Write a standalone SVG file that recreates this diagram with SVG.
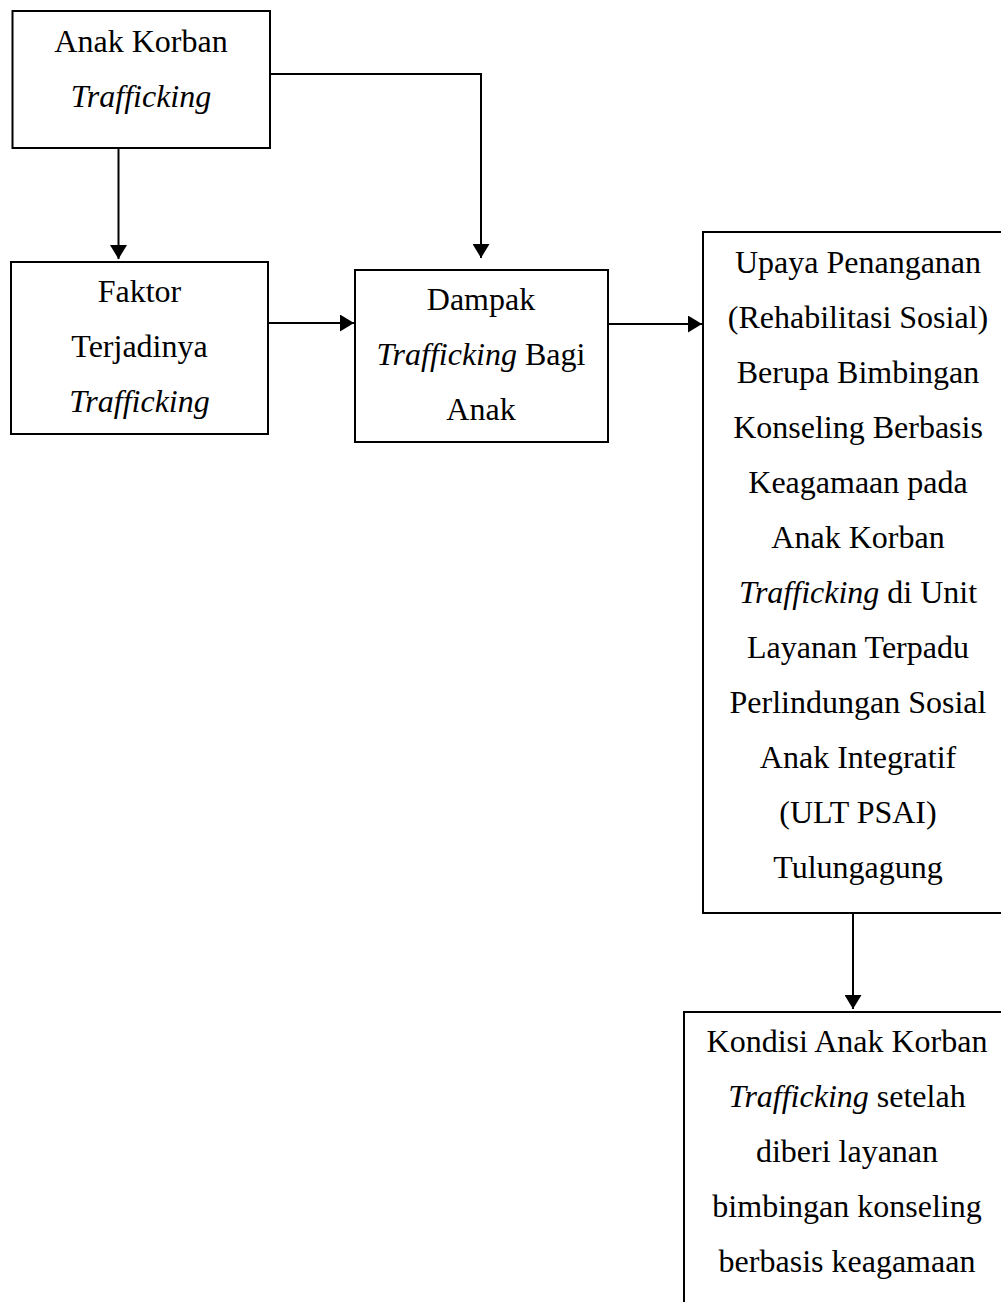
<svg xmlns="http://www.w3.org/2000/svg" width="1001" height="1302" viewBox="0 0 1001 1302">
<style>
.box{fill:#fff;stroke:#000;stroke-width:2}
.t{font-family:"Liberation Serif","Times New Roman",serif;font-size:32px;fill:#000;text-anchor:middle}
.i{font-style:italic}
.c{fill:none;stroke:#000;stroke-width:2}
</style>
<defs>
<marker id="ah" viewBox="0 0 14 17" refX="14" refY="8.5" markerWidth="14" markerHeight="17" markerUnits="userSpaceOnUse" orient="auto">
<path d="M0,0 L14,8.5 L0,17 z" fill="#000"/>
</marker>
</defs>
<rect width="1001" height="1302" fill="#fff"/>
<g id="connectors">
<path class="c" d="M118.5 148 V259" marker-end="url(#ah)"/>
<path class="c" d="M270 74 H481 V258" marker-end="url(#ah)"/>
<path class="c" d="M268 323 H354" marker-end="url(#ah)"/>
<path class="c" d="M608 324 H702" marker-end="url(#ah)"/>
<path class="c" d="M853 913 V1009" marker-end="url(#ah)"/>
</g>
<g id="n1">
<rect class="box" x="12.5" y="11" width="257.5" height="137"/>
<text class="t" x="141" y="52">Anak Korban</text>
<text class="t i" x="141" y="107">Trafficking</text>
</g>
<g id="n2">
<rect class="box" x="11" y="262" width="257" height="172"/>
<text class="t" x="139.5" y="302">Faktor</text>
<text class="t" x="139.5" y="357">Terjadinya</text>
<text class="t i" x="139.5" y="412">Trafficking</text>
</g>
<g id="n3">
<rect class="box" x="355" y="270" width="253" height="172"/>
<text class="t" x="481" y="310">Dampak</text>
<text class="t" x="481" y="365"><tspan class="i">Trafficking</tspan> Bagi</text>
<text class="t" x="481" y="420">Anak</text>
</g>
<g id="n4">
<rect class="box" x="703" y="232" width="310" height="681"/>
<text class="t" x="858" y="273">Upaya Penanganan</text>
<text class="t" x="858" y="328">(Rehabilitasi Sosial)</text>
<text class="t" x="858" y="383">Berupa Bimbingan</text>
<text class="t" x="858" y="438">Konseling Berbasis</text>
<text class="t" x="858" y="493">Keagamaan pada</text>
<text class="t" x="858" y="548">Anak Korban</text>
<text class="t" x="858" y="603"><tspan class="i">Trafficking</tspan> di Unit</text>
<text class="t" x="858" y="658">Layanan Terpadu</text>
<text class="t" x="858" y="713">Perlindungan Sosial</text>
<text class="t" x="858" y="768">Anak Integratif</text>
<text class="t" x="858" y="823">(ULT PSAI)</text>
<text class="t" x="858" y="878">Tulungagung</text>
</g>
<g id="n5">
<rect class="box" x="684" y="1012" width="326" height="400"/>
<text class="t" x="847" y="1052">Kondisi Anak Korban</text>
<text class="t" x="847" y="1107"><tspan class="i">Trafficking</tspan> setelah</text>
<text class="t" x="847" y="1162">diberi layanan</text>
<text class="t" x="847" y="1217">bimbingan konseling</text>
<text class="t" x="847" y="1272">berbasis keagamaan</text>
</g>
</svg>
